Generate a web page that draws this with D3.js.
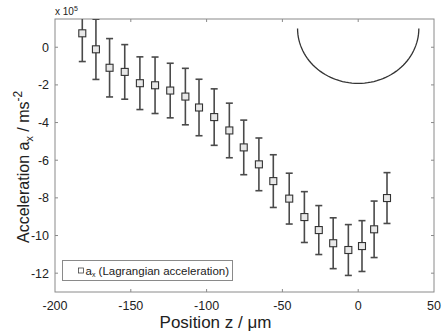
<!DOCTYPE html>
<html>
<head>
<meta charset="utf-8">
<script src="https://cdn.jsdelivr.net/npm/d3@7"></script>
<style>
  body { margin: 0; background: #fff; }
  text { font-family: "Liberation Sans", Arial, sans-serif; fill: #222; }
</style>
</head>
<body>
<div id="chart"></div>
<script>
// positions (µm) and acceleration (x 10^5 m/s^2) with error half-widths
const positions = [-182, -173, -164, -154, -144, -134, -124, -114, -105, -95, -85, -75.5,
                   -65.5, -56, -45.5, -35.5, -26, -16.5, -6.5, 2.5, 10.5, 19];
const accel = [0.74, -0.11, -1.09, -1.31, -1.91, -2.02, -2.30, -2.62, -3.20, -3.71, -4.42, -5.32,
               -6.22, -7.11, -8.04, -9.02, -9.71, -10.41, -10.77, -10.56, -9.67, -8.01];
const errs = [1.5, 1.6, 1.55, 1.45, 1.4, 1.5, 1.45, 1.5, 1.5, 1.5, 1.45, 1.45,
              1.4, 1.4, 1.35, 1.35, 1.3, 1.35, 1.35, 1.35, 1.5, 1.35];
const xTicks = [-200, -150, -100, -50, 0, 50];
const yTicks = [0, -2, -4, -6, -8, -10, -12];
// outline of the sphere sketch: centre (µm, x10^5) and radii
const sphereCentre = [0, 1.0];
const sphereRadius = [40, 2.92];

const margin = {top: 19, right: 11, bottom: 44, left: 55};
const W = 445, H = 336;
const width = W - margin.left - margin.right;
const height = H - margin.top - margin.bottom;

const xScale = d3.scaleLinear().domain([-200, 50]).range([0, width]);
const yScale = d3.scaleLinear().domain([-13, 1.5]).range([height, 0]);

const svg = d3.select("#chart").append("svg")
    .attr("width", W)
    .attr("height", H)
    .append("g")
    .attr("transform", `translate(${margin.left},${margin.top})`);

svg.append("clipPath").attr("id", "clip")
    .append("rect").attr("width", width).attr("height", height);

const frameColor = "#8a8a8a";
const tickLen = 3;

// frame with inward ticks
svg.append("rect")
    .attr("width", width).attr("height", height)
    .attr("fill", "none").attr("stroke", frameColor).attr("stroke-width", 1);

xTicks.slice(1, -1).forEach(t => {
    svg.append("line").attr("x1", xScale(t)).attr("x2", xScale(t))
        .attr("y1", height).attr("y2", height - tickLen).attr("stroke", frameColor);
    svg.append("line").attr("x1", xScale(t)).attr("x2", xScale(t))
        .attr("y1", 0).attr("y2", tickLen).attr("stroke", frameColor);
});
yTicks.forEach(t => {
    svg.append("line").attr("x1", 0).attr("x2", tickLen)
        .attr("y1", yScale(t)).attr("y2", yScale(t)).attr("stroke", frameColor);
    svg.append("line").attr("x1", width).attr("x2", width - tickLen)
        .attr("y1", yScale(t)).attr("y2", yScale(t)).attr("stroke", frameColor);
});

svg.selectAll(".xLabel")
    .data(xTicks)
    .enter().append("text")
    .attr("class", "xLabel")
    .attr("x", d => xScale(d))
    .attr("y", height + 18)
    .attr("text-anchor", "middle")
    .attr("font-size", "12.5px")
    .text(d => d);

svg.selectAll(".yLabel")
    .data(yTicks)
    .enter().append("text")
    .attr("class", "yLabel")
    .attr("x", -6)
    .attr("y", d => yScale(d))
    .attr("dy", "0.35em")
    .attr("text-anchor", "end")
    .attr("font-size", "12.5px")
    .text(d => d);

// x 10^5 multiplier
const mult = svg.append("text")
    .attr("x", 0)
    .attr("y", -4)
    .attr("font-size", "10px");
mult.append("tspan").text("x 10");
mult.append("tspan").attr("dy", -4).attr("font-size", "7px").text("5");

// axis titles
const xTitle = svg.append("text")
    .attr("x", 215.5 - margin.left)
    .attr("y", 328 - margin.top)
    .attr("text-anchor", "middle")
    .attr("font-size", "17px");
xTitle.append("tspan").text("Position z / ");
xTitle.append("tspan").text("\u03bcm");

const yTitle = svg.append("text")
    .attr("transform", `translate(${29 - margin.left},${243 - margin.top}) rotate(-90)`)
    .attr("text-anchor", "start")
    .attr("font-size", "16px");
yTitle.append("tspan").text("Acceleration a");
yTitle.append("tspan").attr("dy", 4).attr("font-size", "11px").text("x");
yTitle.append("tspan").attr("dy", -4).text(" / ms");
yTitle.append("tspan").attr("dy", -7).attr("font-size", "12px").text("-2");

// sphere outline
const arc = d3.range(0, 181, 3).map(a => {
    const r = a * Math.PI / 180;
    return [sphereCentre[0] + sphereRadius[0] * Math.cos(r), sphereCentre[1] - sphereRadius[1] * Math.sin(r)];
});
svg.append("path")
    .datum(arc)
    .attr("fill", "none")
    .attr("stroke", "#333")
    .attr("stroke-width", 1.3)
    .attr("d", d3.line().x(d => xScale(d[0])).y(d => yScale(d[1])));

// error bars
const data = positions.map((z, i) => ({z: z, a: accel[i], e: errs[i]}));
const plot = svg.append("g").attr("clip-path", "url(#clip)");
const barColor = "#4a4a4a";
const capW = 3.5;

plot.selectAll(".errBar")
    .data(data)
    .enter().append("line")
    .attr("class", "errBar")
    .attr("x1", d => xScale(d.z)).attr("x2", d => xScale(d.z))
    .attr("y1", d => yScale(d.a + d.e)).attr("y2", d => yScale(d.a - d.e))
    .attr("stroke", barColor).attr("stroke-width", 1.6);

["top", "bottom"].forEach(side => {
    plot.selectAll(".cap-" + side)
        .data(data)
        .enter().append("line")
        .attr("class", "cap-" + side)
        .attr("x1", d => xScale(d.z) - capW).attr("x2", d => xScale(d.z) + capW)
        .attr("y1", d => yScale(side === "top" ? d.a + d.e : d.a - d.e))
        .attr("y2", d => yScale(side === "top" ? d.a + d.e : d.a - d.e))
        .attr("stroke", barColor).attr("stroke-width", 1.6);
});

plot.selectAll(".marker")
    .data(data)
    .enter().append("rect")
    .attr("class", "marker")
    .attr("x", d => xScale(d.z) - 3.5)
    .attr("y", d => yScale(d.a) - 3.5)
    .attr("width", 7).attr("height", 7)
    .attr("fill", "#e8e8e8")
    .attr("stroke", "#333").attr("stroke-width", 1.1);

// legend
const legend = svg.append("g").attr("transform", `translate(${62.5 - margin.left},${260.5 - margin.top})`);
legend.append("rect")
    .attr("width", 170).attr("height", 20)
    .attr("fill", "#fff").attr("stroke", frameColor);
legend.append("rect")
    .attr("x", 16).attr("y", 7.5).attr("width", 5).attr("height", 5)
    .attr("fill", "none").attr("stroke", "#444").attr("stroke-width", 0.8);
const legText = legend.append("text")
    .attr("x", 23).attr("y", 14)
    .attr("font-size", "11.5px");
legText.append("tspan").text("a");
legText.append("tspan").attr("dy", 2).attr("font-size", "7px").text("x");
legText.append("tspan").attr("dy", -2).text(" (Lagrangian acceleration)");
</script>
</body>
</html>
